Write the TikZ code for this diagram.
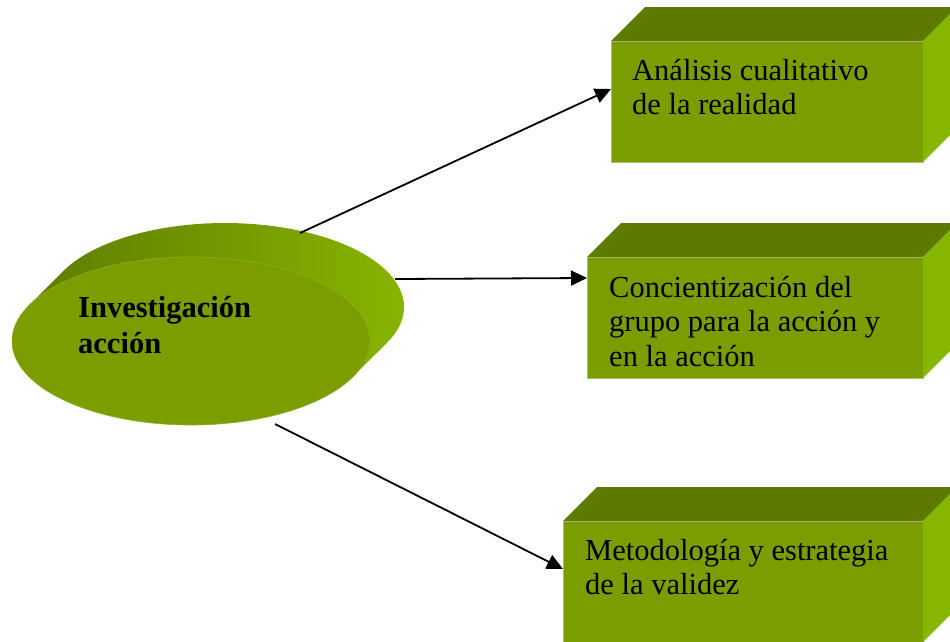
\documentclass[tikz,border=0pt]{standalone}
\usepackage{fontspec}
\setmainfont{Liberation Serif}
\usetikzlibrary{arrows.meta,shapes.geometric}
\definecolor{frontc}{RGB}{122,158,0}
\definecolor{topc}{RGB}{92,122,0}
\definecolor{rightc}{RGB}{134,182,0}
\definecolor{edgec}{RGB}{168,192,110}
\definecolor{sidedark}{RGB}{94,124,0}
\definecolor{sidelight}{RGB}{138,184,0}
\newcommand{\mylines}[1]{\parbox[t]{500pt}{#1}}
\tikzset{
  frontbox/.style={rectangle, fill=frontc, draw=edgec, line width=0.6pt, inner sep=0pt, outer sep=0pt, minimum height=121pt},
  topface/.style={fill=topc},
  rightface/.style={fill=rightc},
  boxtext/.style={anchor=base west, inner sep=0pt, font=\fontsize{30.5}{34.5}\selectfont},
  elltext/.style={anchor=base west, inner sep=0pt, font=\bfseries\fontsize{30.5}{36}\selectfont},
  conn/.style={line width=1.8pt, -{Triangle[length=16pt,width=15pt]}},
}
\begin{document}
\begin{tikzpicture}[x=1pt,y=-1pt]
\useasboundingbox (0,0) rectangle (950,641);
\clip (0,0) rectangle (950,641);
% extruded ellipse: side and back
\path[left color=sidedark, middle color=sidedark, right color=sidelight]
  (28.9,305.4) -- (62.9,271.4)
  arc[start angle=205.1, end angle=385.1, x radius=179, y radius=84]
  -- (353.1,376.6) -- cycle;
\node[ellipse, fill=frontc, draw=frontc!85!white, line width=0.6pt, minimum width=358pt, minimum height=168pt, inner sep=0pt] (ie) at (191,341) {};
\node[elltext] (it) at (78,317) {\mylines{Investigación\\acción}};
% boxes
\node[frontbox, minimum width=312pt] (b1) at (767,101.5) {};
\node[frontbox, minimum width=336pt] (b2) at (755,317.5) {};
\node[frontbox, minimum width=360pt] (b3) at (743,581.5) {};
\foreach \b in {b1,b2,b3}{
  \fill[topface] (\b.north west) -- ++(34,-34) -- ([shift={(34,-34)}]\b.north east) -- (\b.north east) -- cycle;
  \fill[rightface] (\b.north east) -- ++(34,-34) -- ([shift={(34,-34)}]\b.south east) -- (\b.south east) -- cycle;
}
\node[boxtext] (t1) at (632,80) {\mylines{Análisis cualitativo\\de la realidad}};
\node[boxtext] (t2) at (609,297) {\mylines{Concientización del\\grupo para la acción y\\en la acción}};
\node[boxtext] (t3) at (585,560) {\mylines{Metodología y estrategia\\de la validez}};
% connectors
\coordinate (s1) at (300,233);
\coordinate (s2) at (395,279);
\coordinate (s3) at (275,424);
\draw[conn] (s1) -- ([yshift=12.5pt]b1.west);
\draw[conn] (s2) -- ([yshift=39.5pt]b2.west);
\draw[conn] (s3) -- ([yshift=12.5pt]b3.west);
\end{tikzpicture}
\end{document}
